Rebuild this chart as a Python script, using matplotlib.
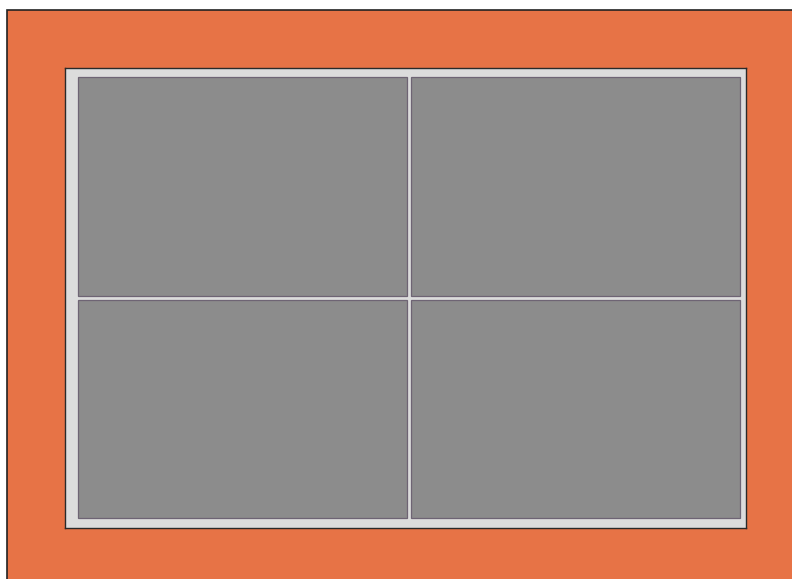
import matplotlib
matplotlib.use("Agg")
import matplotlib.pyplot as plt
from matplotlib.patches import Rectangle

# treemap data: two columns, two cells each
columns = ["left", "right"]
col_cells = [["A", "C"], ["B", "D"]]
col_values = [[1, 1], [1, 1]]

fig = plt.figure(figsize=(7.92, 5.79), dpi=100)
fig.patch.set_facecolor("white")

# orange backdrop with dark left/top edge (right/bottom run off the canvas)
fig.patches.append(Rectangle((7 / 792, -0.05), 1.0, 1.05 - 10 / 579, transform=fig.transFigure,
                             facecolor="#e77346", edgecolor="#222222", linewidth=1.2,
                             zorder=-1))

# inner panel (pixel-like units)
W, H = 681, 460
ax = fig.add_axes([65 / 792, 1 - 528 / 579, W / 792, H / 579])
ax.set_zorder(2)
ax.set_facecolor("#dcdcdc")
for s in ax.spines.values():
    s.set_color("#2a2a2a")
    s.set_linewidth(1.0)
ax.set_xlim(0, W)
ax.set_ylim(H, 0)
ax.set_xticks([])
ax.set_yticks([])

pad_l, pad_t, pad_r, pad_b, gap = 13, 9, 6, 10, 4
area_w = W - pad_l - pad_r
area_h = H - pad_t - pad_b
total = sum(sum(v) for v in col_values)

x = pad_l
for vals in col_values:
    cw = (area_w + gap) * sum(vals) / total - gap
    y = pad_t
    for v in vals:
        ch = (area_h + gap) * v / sum(vals) - gap
        ax.add_patch(Rectangle((x, y), cw, ch, facecolor="#8c8c8c",
                               edgecolor="#6e6474", linewidth=0.9))
        y += ch + gap
    x += cw + gap

fig.savefig("out.png", dpi=100)
